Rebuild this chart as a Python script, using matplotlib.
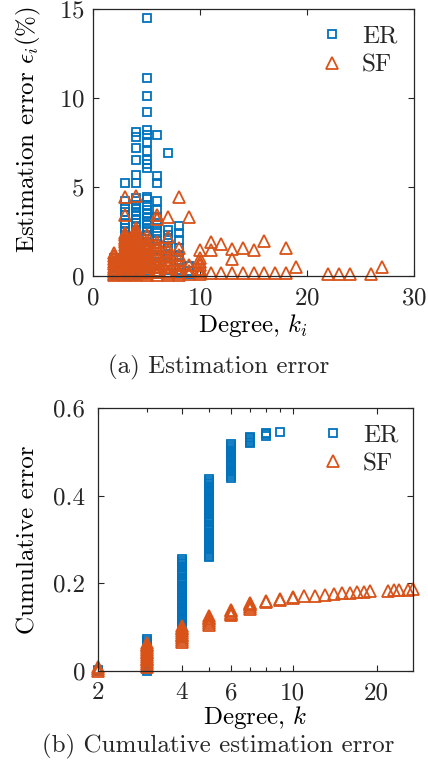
import matplotlib
matplotlib.use("Agg")
import matplotlib.pyplot as plt

plt.rcParams['font.family'] = ['cmr10', 'DejaVu Serif']
plt.rcParams['mathtext.fontset'] = 'cm'
plt.rcParams['axes.formatter.use_mathtext'] = True
plt.rcParams['axes.unicode_minus'] = False

BLUE = '#0072BD'
ORANGE = '#D95319'
AXC = '#262626'

# ---------------- (a) estimation error per node (%) ----------------
er_k2 = [0.05, 0.15, 0.3, 0.45, 0.6, 0.8, 1.0]
er_k3 = [5.2, 4.2, 3.9, 3.6, 3.4, 3.15, 2.9, 2.7, 2.5, 2.3, 2.1, 1.9, 1.7, 1.5,
         1.3, 1.1, 0.95, 0.8, 0.65, 0.5, 0.4, 0.3, 0.2, 0.1, 0.05]
er_k4 = [8.1, 7.8, 7.2, 6.5, 5.7, 5.2, 4.4, 4.2, 4.0, 3.8, 3.6, 3.4, 3.2, 3.0,
         2.8, 2.6, 2.4, 2.2, 2.0, 1.8, 1.6, 1.4, 1.2, 1.0, 0.85, 0.7, 0.55,
         0.4, 0.3, 0.2, 0.1, 0.05]
er_k5 = [14.5, 11.1, 10.1, 9.2, 8.2, 7.9, 7.5, 7.0, 6.5, 6.3, 6.05, 4.45, 4.3,
         4.0, 3.7, 3.5, 3.3, 3.1, 2.9, 2.7, 2.5, 2.3, 2.1, 1.9, 1.7, 1.5, 1.3,
         1.1, 0.9, 0.75, 0.6, 0.45, 0.3, 0.2, 0.1]
er_k6 = [7.9, 5.6, 5.2, 4.2, 3.7, 3.3, 3.0, 2.7, 2.4, 2.1, 1.8, 1.5, 1.2, 1.0,
         0.8, 0.6, 0.4, 0.25, 0.1]
er_k7 = [6.9, 2.6, 2.3, 2.0, 1.7, 1.4, 1.1, 0.8, 0.55, 0.35, 0.15]
er_k8 = [2.8, 2.4, 2.0, 1.6, 1.2, 0.9, 0.6, 0.35, 0.15]
er_k9 = [0.55, 0.3, 0.1]

sf_k2 = [1.3, 1.1, 0.95, 0.8, 0.65, 0.5, 0.4, 0.3, 0.2, 0.1, 0.05]
sf_k3 = [4.45, 3.4, 2.4, 2.3, 2.15, 2.0, 1.9, 1.75, 1.6, 1.5, 1.4, 1.3, 1.2,
         1.1, 1.0, 0.9, 0.8, 0.7, 0.6, 0.5, 0.4, 0.3, 0.2, 0.1, 0.05]
sf_k4 = [4.5, 2.7, 2.5, 2.35, 2.2, 2.05, 1.9, 1.8, 1.65, 1.5, 1.4, 1.3, 1.2,
         1.1, 1.0, 0.9, 0.8, 0.7, 0.6, 0.5, 0.4, 0.3, 0.2, 0.1, 0.05]
sf_k5 = [2.3, 2.0, 1.85, 1.7, 1.55, 1.4, 1.25, 1.1, 0.95, 0.8, 0.65, 0.5, 0.35,
         0.25, 0.15, 0.05]
sf_k6 = [3.4, 3.2, 1.9, 1.7, 1.5, 1.3, 1.1, 0.9, 0.7, 0.5, 0.35, 0.2, 0.08]
sf_k7 = [3.3, 2.2, 1.65, 1.4, 1.15, 0.9, 0.7, 0.5, 0.3, 0.15, 0.05]
sf_k8 = [4.45, 1.55, 1.2, 0.9, 0.6, 0.35, 0.15, 0.05]
sf_k9 = [3.3, 0.6, 0.3, 0.1]
sf_k10 = [1.45, 1.0, 0.8, 0.6, 0.4, 0.2, 0.1]
sf_high_deg = [11, 11, 11, 12, 12, 13, 13, 13, 14, 14, 15, 15, 16, 16, 17,
               18, 18, 19, 22, 23, 24, 26, 27]
sf_high_err = [1.93, 1.46, 0.15, 1.8, 0.15, 1.5, 0.94, 0.15, 1.55, 0.15, 1.46,
               0.15, 1.98, 0.15, 0.15, 1.55, 0.15, 0.53, 0.1, 0.1, 0.1, 0.1, 0.53]

# ---------------- (b) cumulative error by degree ----------------
er_cum_k2 = [0.0, 0.002]
er_cum_k3 = [0.0, 0.004, 0.009, 0.013, 0.017, 0.021, 0.025, 0.03, 0.034, 0.038,
             0.043, 0.047, 0.051, 0.055, 0.06, 0.064, 0.068, 0.073]
er_cum_k4 = [0.076, 0.08, 0.084, 0.089, 0.093, 0.097, 0.101, 0.105, 0.109,
             0.113, 0.118, 0.122, 0.126, 0.13, 0.134, 0.138, 0.142, 0.147,
             0.151, 0.155, 0.159, 0.163, 0.167, 0.172, 0.176, 0.18, 0.184,
             0.188, 0.192, 0.197, 0.201, 0.205, 0.209, 0.213, 0.218, 0.222,
             0.226, 0.23, 0.234, 0.239, 0.243, 0.247, 0.251, 0.256]
er_cum_k5 = [0.259, 0.263, 0.267, 0.271, 0.276, 0.28, 0.284, 0.288, 0.292,
             0.296, 0.301, 0.305, 0.309, 0.313, 0.318, 0.322, 0.326, 0.33,
             0.334, 0.339, 0.343, 0.347, 0.351, 0.355, 0.36, 0.364, 0.368,
             0.372, 0.376, 0.381, 0.385, 0.389, 0.393, 0.397, 0.402, 0.406,
             0.41, 0.414, 0.418, 0.422, 0.426, 0.43, 0.434, 0.438]
er_cum_k6 = [0.441, 0.445, 0.449, 0.453, 0.457, 0.461, 0.465, 0.469, 0.473,
             0.477, 0.481, 0.485, 0.489, 0.493, 0.497, 0.501, 0.505, 0.509,
             0.513, 0.518]
er_cum_k7 = [0.52, 0.523, 0.527, 0.531, 0.534]
er_cum_k8 = [0.536, 0.54, 0.543]
er_cum_k9 = [0.545]

sf_cum_k2 = [0.0, 0.004, 0.008]
sf_cum_k3 = [0.008, 0.012, 0.016, 0.02, 0.024, 0.028, 0.032, 0.036, 0.04,
             0.044, 0.048, 0.052, 0.056, 0.06, 0.064]
sf_cum_k4 = [0.067, 0.071, 0.075, 0.079, 0.083, 0.087, 0.091, 0.095, 0.099,
             0.102]
sf_cum_k5 = [0.106, 0.11, 0.114, 0.118, 0.122, 0.125]
sf_cum_k6 = [0.127, 0.13, 0.133, 0.136, 0.139]
sf_cum_k7 = [0.142, 0.146, 0.15, 0.153, 0.155]
sf_cum_k8 = [0.157, 0.16]
sf_cum_k9 = [0.162, 0.164]
sf_cum_k10 = [0.166, 0.168]
sf_cum_high_deg = [11, 12, 13, 14, 15, 16, 17, 18, 19, 22, 23, 24, 26, 27]
sf_cum_high_val = [0.17, 0.172, 0.174, 0.176, 0.177, 0.178, 0.18, 0.181, 0.182,
                   0.183, 0.184, 0.184, 0.185, 0.186]


def stack(groups):
    xs, ys = [], []
    for k, vals in groups:
        xs += [k] * len(vals)
        ys += list(vals)
    return xs, ys


er_x, er_y = stack([(2, er_k2), (3, er_k3), (4, er_k4), (5, er_k5), (6, er_k6),
                    (7, er_k7), (8, er_k8), (9, er_k9)])
sf_x, sf_y = stack([(2, sf_k2), (3, sf_k3), (4, sf_k4), (5, sf_k5), (6, sf_k6),
                    (7, sf_k7), (8, sf_k8), (9, sf_k9), (10, sf_k10)])
sf_x += sf_high_deg
sf_y += sf_high_err

erc_x, erc_y = stack([(2, er_cum_k2), (3, er_cum_k3), (4, er_cum_k4), (5, er_cum_k5),
                      (6, er_cum_k6), (7, er_cum_k7), (8, er_cum_k8), (9, er_cum_k9)])
sfc_x, sfc_y = stack([(2, sf_cum_k2), (3, sf_cum_k3), (4, sf_cum_k4), (5, sf_cum_k5),
                      (6, sf_cum_k6), (7, sf_cum_k7), (8, sf_cum_k8), (9, sf_cum_k9),
                      (10, sf_cum_k10)])
sfc_x += sf_cum_high_deg
sfc_y += sf_cum_high_val

W, H = 428, 779
fig = plt.figure(figsize=(W / 100, H / 100), dpi=100)

ax1 = fig.add_axes([93 / W, 1 - 276 / H, 321 / W, 267 / H])
ax2 = fig.add_axes([98 / W, 1 - 671 / H, 315 / W, 263 / H])

FS = 18
sq = dict(marker='s', linestyle='none', markersize=6, markerfacecolor='none',
          markeredgecolor=BLUE, markeredgewidth=1.3, clip_on=False)
tri = dict(marker='^', linestyle='none', markersize=8.5, markerfacecolor='none',
           markeredgecolor=ORANGE, markeredgewidth=1.3, clip_on=False)

ax1.plot(er_x, er_y, label='ER', **sq)
ax1.plot(sf_x, sf_y, label='SF', **tri)
ax1.set_xlim(0, 30)
ax1.set_ylim(0, 15)
ax1.set_xticks([0, 10, 20, 30])
ax1.set_yticks([0, 5, 10, 15])
ax1.set_xlabel(r'Degree, $k_i$', fontsize=FS, labelpad=2)
ax1.set_ylabel(r'Estimation error $\epsilon_i(\%)$', fontsize=FS)
ax1.yaxis.set_label_coords(-0.155, 0.55)

ax2.plot(erc_x, erc_y, label='ER', **sq)
ax2.plot(sfc_x, sfc_y, label='SF', **tri)
ax2.set_xscale('log')
ax2.set_xlim(2, 27)
ax2.set_ylim(0, 0.6)
ax2.set_xticks([2, 4, 6, 10, 20])
ax2.set_xticklabels(['2', '4', '6', '10', '20'])
ax2.set_xticks([3, 5, 7, 8, 9], minor=True)
ax2.set_xticklabels([], minor=True)
ax2.set_yticks([0, 0.2, 0.4, 0.6])
ax2.set_yticklabels(['0', '0.2', '0.4', '0.6'])
ax2.set_xlabel(r'Degree, $k$', fontsize=FS, labelpad=0)
ax2.set_ylabel('Cumulative error', fontsize=FS)
ax2.yaxis.set_label_coords(-0.185, 0.5)

for ax in (ax1, ax2):
    for s in ax.spines.values():
        s.set_color(AXC)
        s.set_linewidth(0.9)
    ax.tick_params(which='both', direction='in', top=True, right=True,
                   colors=AXC, labelcolor=AXC, labelsize=FS, width=0.8)
    ax.tick_params(which='major', length=4)
    ax.tick_params(which='minor', length=3)
    ax.tick_params(axis='x', pad=8)
ax1.tick_params(axis='y', pad=6)
ax2.tick_params(axis='y', pad=9)

legkw = dict(loc='upper left', frameon=False, fontsize=FS, handletextpad=0.6,
             labelspacing=0.25, handlelength=1.2, borderaxespad=0, borderpad=0)
leg1 = ax1.legend(bbox_to_anchor=(0.698, 0.94), **legkw)
leg2 = ax2.legend(bbox_to_anchor=(0.698, 0.94), **legkw)
for leg in (leg1, leg2):
    for t in leg.get_texts():
        t.set_color(AXC)

fig.text(0.51, 1 - 367 / H, '(a) Estimation error', ha='center', va='center',
         fontsize=FS, color=AXC)
fig.text(0.51, 1 - 746 / H, '(b) Cumulative estimation error', ha='center',
         va='center', fontsize=FS, color=AXC)

fig.savefig('out.png', dpi=100)
